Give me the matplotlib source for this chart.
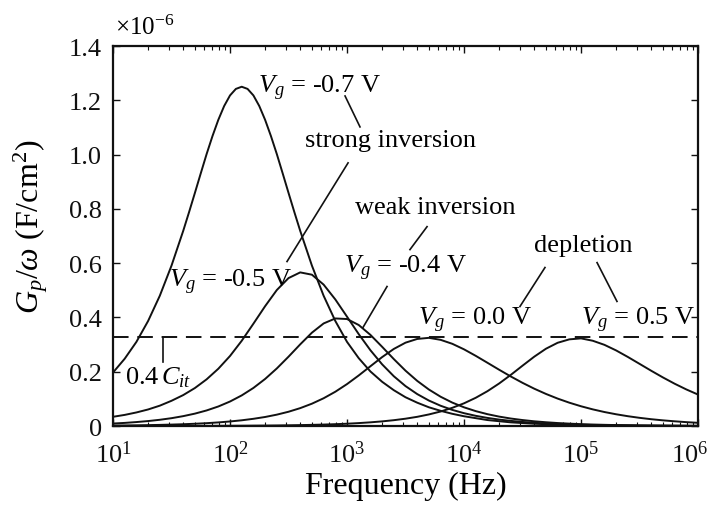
import numpy as np
import matplotlib
matplotlib.use('Agg')
import matplotlib.pyplot as plt

plt.rcParams['font.family'] = ['Liberation Serif', 'DejaVu Serif']
plt.rcParams['mathtext.fontset'] = 'custom'
plt.rcParams['mathtext.rm'] = 'Liberation Serif'
plt.rcParams['mathtext.it'] = 'Liberation Serif:italic'
plt.rcParams['mathtext.bf'] = 'Liberation Serif:bold'

# frequency samples, 10 per decade from 10 Hz to 1 MHz
freq = 10 ** np.linspace(1, 6, 51)

# the -0.7 V peak is narrow, so it is sampled twice as densely around the top
logf_m07 = [1.0, 1.1, 1.2, 1.3, 1.4, 1.5, 1.6, 1.65, 1.7, 1.75, 1.8, 1.85, 1.9, 1.95,
            2.0, 2.05, 2.1, 2.15, 2.2, 2.25, 2.3, 2.35, 2.4, 2.45, 2.5, 2.55, 2.6,
            2.7, 2.8, 2.9, 3.0, 3.1, 3.2, 3.3, 3.4, 3.5, 3.6, 3.7, 3.8, 3.9, 4.0,
            4.2, 4.4, 4.6, 4.8, 5.0, 5.5, 6.0]

# Gp/omega in units of 1e-6 F/cm^2
vg_m07 = [0.197, 0.248, 0.310, 0.387, 0.480, 0.591, 0.719, 0.788, 0.859, 0.931,
          1.002, 1.068, 1.128, 1.179, 1.218, 1.242, 1.250, 1.242, 1.218, 1.179,
          1.128, 1.068, 1.002, 0.931, 0.859, 0.788, 0.719, 0.591, 0.480, 0.387,
          0.310, 0.250, 0.201, 0.163, 0.132, 0.106, 0.086, 0.069, 0.056, 0.045,
          0.036, 0.022, 0.0135, 0.0084, 0.0052, 0.0032, 0.001, 0.0003]
vg_m05 = [0.034, 0.041, 0.050, 0.061, 0.075, 0.093, 0.114, 0.140, 0.172, 0.211,
          0.258, 0.314, 0.377, 0.4415, 0.501, 0.545, 0.566, 0.5575, 0.521, 0.4664,
          0.4028, 0.3386, 0.2792, 0.2273, 0.1834, 0.1471, 0.1177, 0.0938, 0.0747, 0.0594,
          0.0473, 0.0376, 0.0299, 0.0237, 0.0189, 0.0150, 0.0119, 0.0095, 0.0075, 0.0060,
          0.0047, 0.0037, 0.0030, 0.0024, 0.0019, 0.0015, 0.0012, 0.0010, 0.0008, 0.0006,
          0.0005]
vg_m04 = [0.0092, 0.0115, 0.0146, 0.0183, 0.0230, 0.0289, 0.0364, 0.0457, 0.0574, 0.0720,
          0.0903, 0.1128, 0.1403, 0.1734, 0.2121, 0.2554, 0.3009, 0.3439, 0.3779, 0.3963,
          0.3942, 0.3722, 0.3358, 0.2919, 0.2466, 0.2039, 0.1663, 0.1344, 0.1079, 0.0863,
          0.0689, 0.0549, 0.0437, 0.0347, 0.0276, 0.0220, 0.0174, 0.0139, 0.0110, 0.0088,
          0.0069, 0.0055, 0.0044, 0.0035, 0.0028, 0.0022, 0.0017, 0.0014, 0.0011, 0.0009,
          0.0007]
vg_00 = [0.0017, 0.0021, 0.0026, 0.0033, 0.0042, 0.0053, 0.0066, 0.0084, 0.0105, 0.0133,
         0.0168, 0.0211, 0.0266, 0.0333, 0.0419, 0.0526, 0.0659, 0.0823, 0.1023, 0.1263,
         0.1545, 0.1863, 0.2202, 0.2539, 0.2840, 0.3071, 0.3208, 0.3249, 0.3175, 0.3029,
         0.2825, 0.2586, 0.2331, 0.2074, 0.1825, 0.1591, 0.1376, 0.1183, 0.1011, 0.0860,
         0.0728, 0.0614, 0.0516, 0.0433, 0.0362, 0.0302, 0.0251, 0.0209, 0.0174, 0.0143,
         0.0118]
vg_05 = [0.0001, 0.0001, 0.0001, 0.0002, 0.0002, 0.0003, 0.0003, 0.0004, 0.0005, 0.0007,
         0.0009, 0.0011, 0.0014, 0.0017, 0.0021, 0.0027, 0.0034, 0.0043, 0.0054, 0.0068,
         0.0085, 0.0108, 0.0136, 0.0171, 0.0215, 0.0270, 0.0339, 0.0427, 0.0535, 0.0671,
         0.0837, 0.1040, 0.1283, 0.1567, 0.1885, 0.2223, 0.2554, 0.2847, 0.3067, 0.3193,
         0.3229, 0.3142, 0.2991, 0.2785, 0.2545, 0.2291, 0.2036, 0.1790, 0.1559, 0.1348,
         0.1159]
cit_level = 0.328   # 0.4 C_it line

xtick_vals = [1e1, 1e2, 1e3, 1e4, 1e5, 1e6]
xtick_labels = [r'$10^{1}$', r'$10^{2}$', r'$10^{3}$', r'$10^{4}$', r'$10^{5}$', r'$10^{6}$']
ytick_vals = [0, 0.2, 0.4, 0.6, 0.8, 1.0, 1.2, 1.4]
ytick_labels = ['0', '0.2', '0.4', '0.6', '0.8', '1.0', '1.2', '1.4']

ink = '#111111'

fig = plt.figure(figsize=(7.13, 5.10), dpi=100)
ax = fig.add_axes([0.1585, 0.1627, 0.8205, 0.7451])

ax.plot(10 ** np.array(logf_m07), vg_m07, color=ink, lw=1.4)
for ys in [vg_m05, vg_m04, vg_00, vg_05]:
    ax.plot(freq, ys, color=ink, lw=1.4)
ax.axhline(cit_level, color=ink, lw=1.4, ls=(0, (8, 4.5)))

ax.set_xscale('log')
ax.set_xlim(10, 1e6)
ax.set_ylim(0, 1.4)
# last x label sits at the figure edge, so it is drawn separately a bit to the left
ax.set_xticks(xtick_vals)
ax.set_xticklabels(xtick_labels[:-1] + [''])
ax.set_yticks(ytick_vals)
ax.set_yticklabels(ytick_labels)

for s in ax.spines.values():
    s.set_linewidth(1.6)
    s.set_color(ink)
ax.tick_params(which='both', direction='in', top=True, right=True, colors=ink)
ax.tick_params(which='major', length=5, width=1, labelsize=19, pad=8)
ax.tick_params(which='minor', length=3, width=0.8)
ax.tick_params(axis='x', which='major', pad=10)
ax.annotate(xtick_labels[-1], xy=(1, 0), xycoords='axes fraction',
            xytext=(-6, -10), textcoords='offset points',
            ha='center', va='top', fontsize=19, color=ink)

ax.set_xlabel('Frequency (Hz)', fontsize=23, labelpad=3)
fig.text(0.0435, 0.555, r'$G_p/\omega$ (F/cm$^2$)', fontsize=23,
         rotation=90, ha='center', va='center')
fig.text(0.161, 0.945, r'$\times$10$^{-6}$', fontsize=18, ha='left', va='center')

fs = 19
ax.text(173, 1.249, r'$V_g$ = -0.7 V', fontsize=fs, ha='left', va='center')
ax.text(2355, 1.054, 'strong inversion', fontsize=fs, ha='center', va='center')
ax.text(101, 0.5325, r'$V_g$ = -0.5 V', fontsize=fs, ha='center', va='center')
ax.text(5649, 0.808, 'weak inversion', fontsize=fs, ha='center', va='center')
ax.text(3162, 0.584, r'$V_g$ = -0.4 V', fontsize=fs, ha='center', va='center')
ax.text(1.04e5, 0.668, 'depletion', fontsize=fs, ha='center', va='center')
ax.text(12530, 0.393, r'$V_g$ = 0.0 V', fontsize=fs, ha='center', va='center')
ax.text(3.10e5, 0.393, r'$V_g$ = 0.5 V', fontsize=fs, ha='center', va='center')
ax.text(24.5, 0.18, r'0.4$\,C_{it}$', fontsize=fs, ha='center', va='center')

# leader lines
leaders = [
    ([962, 1291], [1.216, 1.102]),
    ([1021, 307], [0.9695, 0.606]),
    ([4831, 3451], [0.7345, 0.650]),
    ([2198, 1371], [0.514, 0.3636]),
    ([4.92e4, 3.01e4], [0.584, 0.4407]),
    ([1.371e5, 2.03e5], [0.602, 0.459]),
    ([26.7, 26.7], [0.323, 0.235]),
]
for xs, ys in leaders:
    ax.plot(xs, ys, color=ink, lw=1.2)

fig.savefig('out.png', dpi=100)
